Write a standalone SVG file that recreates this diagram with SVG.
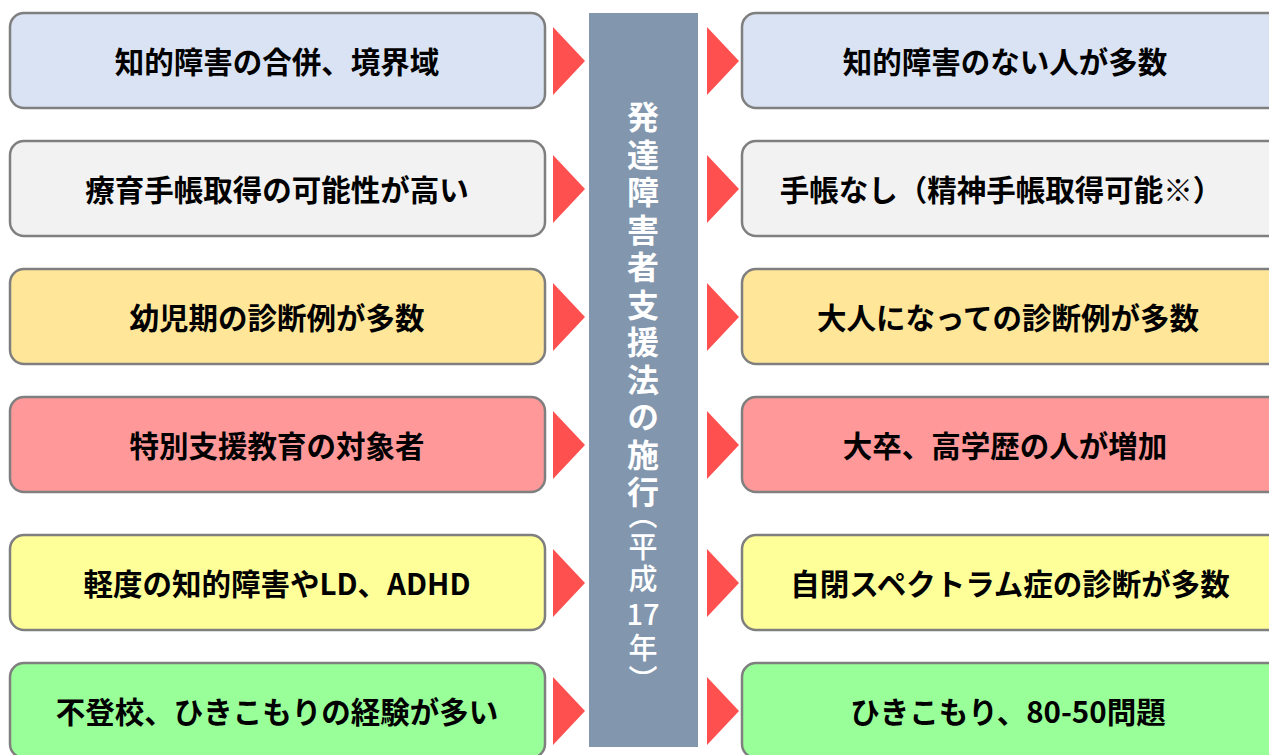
<svg xmlns="http://www.w3.org/2000/svg" width="1269" height="755" viewBox="0 0 1269 755">
<style>
.box{stroke:#7f7f7f;stroke-width:2.5}
.t{font-family:"Noto Sans CJK JP","Noto Sans",sans-serif;font-weight:bold;font-size:29.5px;fill:#000;text-anchor:middle;dominant-baseline:central}
.v{font-family:"Noto Sans CJK JP","Noto Sans",sans-serif;font-weight:bold;font-size:32px;fill:#fff;writing-mode:vertical-rl;text-orientation:upright;letter-spacing:5.5px}
.vs{font-family:"Noto Sans CJK JP","Noto Sans",sans-serif;font-weight:500;font-size:29px;fill:#fff;writing-mode:vertical-rl;text-orientation:upright;letter-spacing:3px}
.h{font-family:"Noto Sans CJK JP","Noto Sans",sans-serif;font-weight:500;font-size:29px;fill:#fff;text-anchor:middle;dominant-baseline:central}
.arr{fill:#ff5050}
.c1{fill:#dae3f3}.c2{fill:#f2f2f2}.c3{fill:#ffe699}.c4{fill:#ff9999}.c5{fill:#ffff99}.c6{fill:#99ff99}
</style>
<rect width="1269" height="755" fill="#fff"/>
<g id="center">
<rect x="589" y="13" width="109" height="734" fill="#8296ae"/>
<text class="v" x="643" y="101">発達障害者支援法の施行</text>
<text class="vs" x="643" y="500">（平成</text>
<text class="h" x="643" y="612">17</text>
<text class="vs" x="643" y="633">年）</text>
</g>
<g id="connectors">
<polygon class="arr" points="553,27 585,61 553,95"/>
<polygon class="arr" points="707,27 739,61 707,95"/>
<polygon class="arr" points="553,155 585,189 553,223"/>
<polygon class="arr" points="707,155 739,189 707,223"/>
<polygon class="arr" points="553,283 585,317 553,351"/>
<polygon class="arr" points="707,283 739,317 707,351"/>
<polygon class="arr" points="553,411 585,445 553,479"/>
<polygon class="arr" points="707,411 739,445 707,479"/>
<polygon class="arr" points="553,549 585,583 553,617"/>
<polygon class="arr" points="707,549 739,583 707,617"/>
<polygon class="arr" points="553,677 585,711 553,745"/>
<polygon class="arr" points="707,677 739,711 707,745"/>
</g>
<g id="L1"><rect class="box c1" x="10" y="13" width="535" height="95" rx="14"/><text class="t" x="277" y="60">知的障害の合併、境界域</text></g>
<g id="R1"><rect class="box c1" x="742" y="13" width="540" height="95" rx="14"/><text class="t" x="1005" y="60">知的障害のない人が多数</text></g>
<g id="L2"><rect class="box c2" x="10" y="141" width="535" height="95" rx="14"/><text class="t" x="277" y="188">療育手帳取得の可能性が高い</text></g>
<g id="R2"><rect class="box c2" x="742" y="141" width="540" height="95" rx="14"/><text class="t" x="1001" y="188">手帳なし（精神手帳取得可能※）</text></g>
<g id="L3"><rect class="box c3" x="10" y="269" width="535" height="95" rx="14"/><text class="t" x="277" y="316">幼児期の診断例が多数</text></g>
<g id="R3"><rect class="box c3" x="742" y="269" width="540" height="95" rx="14"/><text class="t" x="1008" y="316">大人になっての診断例が多数</text></g>
<g id="L4"><rect class="box c4" x="10" y="397" width="535" height="95" rx="14"/><text class="t" x="277" y="444">特別支援教育の対象者</text></g>
<g id="R4"><rect class="box c4" x="742" y="397" width="540" height="95" rx="14"/><text class="t" x="1005" y="444">大卒、高学歴の人が増加</text></g>
<g id="L5"><rect class="box c5" x="10" y="535" width="535" height="95" rx="14"/><text class="t" x="277" y="582">軽度の知的障害やLD、ADHD</text></g>
<g id="R5"><rect class="box c5" x="742" y="535" width="540" height="95" rx="14"/><text class="t" x="1010" y="582">自閉スペクトラム症の診断が多数</text></g>
<g id="L6"><rect class="box c6" x="10" y="663" width="535" height="95" rx="14"/><text class="t" x="277" y="710">不登校、ひきこもりの経験が多い</text></g>
<g id="R6"><rect class="box c6" x="742" y="663" width="540" height="95" rx="14"/><text class="t" x="1008" y="710">ひきこもり、80-50問題</text></g>
</svg>
